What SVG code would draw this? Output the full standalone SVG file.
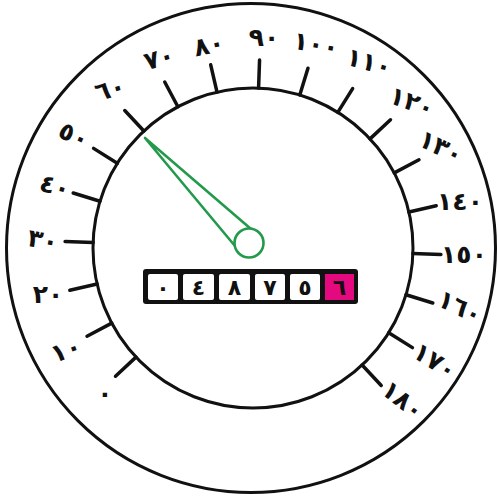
<svg xmlns="http://www.w3.org/2000/svg" width="498" height="500" viewBox="0 0 498 500">
  <style>
    .ring { fill: none; stroke: #111; stroke-width: 3; }
    .tick { stroke: #111; stroke-width: 3.5; stroke-linecap: round; }
    .lbl { font-family: "DejaVu Sans", sans-serif; font-weight: bold; font-size: 25px; letter-spacing: -1px; fill: #111; text-anchor: middle; dominant-baseline: central; }
    .cell { fill: #fff; }
    .dig { font-family: "DejaVu Sans", sans-serif; font-weight: bold; font-size: 22px; fill: #111; text-anchor: middle; dominant-baseline: central; }
    .needle { fill: #fff; stroke: #239a4b; stroke-width: 2.6; stroke-linejoin: round; }
  </style>
  <rect x="0" y="0" width="498" height="500" fill="#fff"/>

  <g id="dial">
    <circle class="ring" cx="251" cy="248" r="244.5"/>
    <circle class="ring" cx="253" cy="248" r="160"/>
  </g>

  <g id="ticks">
    <line class="tick" x1="253" y1="88" x2="253" y2="60" transform="rotate(-133 253 248)"/>
    <line class="tick" x1="253" y1="88" x2="253" y2="60" transform="rotate(-118 253 248)"/>
    <line class="tick" x1="253" y1="88" x2="253" y2="60" transform="rotate(-103 253 248)"/>
    <line class="tick" x1="253" y1="88" x2="253" y2="60" transform="rotate(-88 253 248)"/>
    <line class="tick" x1="253" y1="88" x2="253" y2="60" transform="rotate(-73 253 248)"/>
    <line class="tick" x1="253" y1="88" x2="253" y2="60" transform="rotate(-58 253 248)"/>
    <line class="tick" x1="253" y1="88" x2="253" y2="60" transform="rotate(-43 253 248)"/>
    <line class="tick" x1="253" y1="88" x2="253" y2="60" transform="rotate(-28 253 248)"/>
    <line class="tick" x1="253" y1="88" x2="253" y2="60" transform="rotate(-13 253 248)"/>
    <line class="tick" x1="253" y1="88" x2="253" y2="60" transform="rotate(2 253 248)"/>
    <line class="tick" x1="253" y1="88" x2="253" y2="60" transform="rotate(17 253 248)"/>
    <line class="tick" x1="253" y1="88" x2="253" y2="60" transform="rotate(32 253 248)"/>
    <line class="tick" x1="253" y1="88" x2="253" y2="60" transform="rotate(47 253 248)"/>
    <line class="tick" x1="253" y1="88" x2="253" y2="60" transform="rotate(62 253 248)"/>
    <line class="tick" x1="253" y1="88" x2="253" y2="60" transform="rotate(77 253 248)"/>
    <line class="tick" x1="253" y1="88" x2="253" y2="60" transform="rotate(92 253 248)"/>
    <line class="tick" x1="253" y1="88" x2="253" y2="60" transform="rotate(107 253 248)"/>
    <line class="tick" x1="253" y1="88" x2="253" y2="60" transform="rotate(122 253 248)"/>
    <line class="tick" x1="253" y1="88" x2="253" y2="60" transform="rotate(137 253 248)"/>
  </g>

  <g id="labels">
    <text class="lbl" x="105" y="393">٠</text>
    <text class="lbl" x="66" y="350" transform="rotate(-20 66 350)">١٠</text>
    <text class="lbl" x="48" y="294">٢٠</text>
    <text class="lbl" x="43" y="240" transform="rotate(10 43 240)">٣٠</text>
    <text class="lbl" x="55" y="186" transform="rotate(15 55 186)">٤٠</text>
    <text class="lbl" x="74" y="135" transform="rotate(25 74 135)">٥٠</text>
    <text class="lbl" x="110" y="89" transform="rotate(-15 110 89)">٦٠</text>
    <text class="lbl" x="159" y="58" transform="rotate(-15 159 58)">٧٠</text>
    <text class="lbl" x="209" y="45" transform="rotate(-12 209 45)">٨٠</text>
    <text class="lbl" x="264" y="37">٩٠</text>
    <text class="lbl" x="316" y="44" transform="rotate(10 316 44)">١٠٠</text>
    <text class="lbl" x="369" y="62" transform="rotate(15 369 62)">١١٠</text>
    <text class="lbl" x="412" y="102" transform="rotate(20 412 102)">١٢٠</text>
    <text class="lbl" x="441" y="147" transform="rotate(25 441 147)">١٣٠</text>
    <text class="lbl" x="460" y="201">١٤٠</text>
    <text class="lbl" x="464" y="254">١٥٠</text>
    <text class="lbl" x="460" y="307" transform="rotate(25 460 307)">١٦٠</text>
    <text class="lbl" x="435" y="361" transform="rotate(32 435 361)">١٧٠</text>
    <text class="lbl" x="403" y="400" transform="rotate(38 403 400)">١٨٠</text>
  </g>

  <g id="odometer">
    <rect x="143" y="269" width="215" height="35" rx="3" fill="#111"/>
    <rect class="cell" x="148" y="274" width="30" height="26" rx="2"/>
    <rect class="cell" x="183" y="274" width="31" height="26" rx="2"/>
    <rect class="cell" x="219" y="274" width="31" height="26" rx="2"/>
    <rect class="cell" x="255" y="274" width="30" height="26" rx="2"/>
    <rect class="cell" x="290" y="274" width="30" height="26" rx="2"/>
    <rect x="325" y="274" width="29" height="26" fill="#e5097f"/>
    <text class="dig" x="163" y="287">٠</text>
    <text class="dig" x="198.5" y="287">٤</text>
    <text class="dig" x="234.5" y="287">٨</text>
    <text class="dig" x="270" y="287">٧</text>
    <text class="dig" x="305" y="287">٥</text>
    <text class="dig" x="339.5" y="287">٦</text>
  </g>

  <g id="needle">
    <polygon class="needle" points="145,138 235,246 251,229"/>
    <circle class="needle" cx="249" cy="243" r="14.5"/>
  </g>
</svg>
